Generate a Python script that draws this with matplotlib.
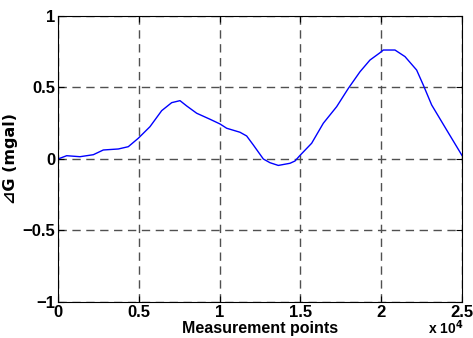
import numpy as np
import matplotlib.pyplot as plt
from matplotlib.ticker import FuncFormatter

pts_x = [0, 538, 1361, 2186, 2804, 3733, 4350, 4970, 5693, 6417, 7036, 7550,
         7963, 8582, 9406, 10025, 10438, 11262, 11675, 12088, 12707, 13119,
         13634, 14356, 14666, 14975, 15697, 16419, 17246, 17968, 18688,
         19307, 19926, 20132, 20854, 21473, 22194, 22607, 23123, 24051, 25000]
pts_g = [0.0, 0.023, 0.016, 0.03, 0.063, 0.07, 0.086, 0.145, 0.226, 0.338,
         0.394, 0.408, 0.371, 0.32, 0.278, 0.245, 0.215, 0.187, 0.161, 0.098,
         0.0, -0.026, -0.045, -0.03, -0.014, 0.025, 0.11, 0.25, 0.366, 0.494,
         0.61, 0.692, 0.743, 0.762, 0.762, 0.716, 0.622, 0.517, 0.378, 0.203,
         0.025]
xticks = [0, 5000, 10000, 15000, 20000, 25000]
yticks = [-1, -0.5, 0, 0.5, 1]

plt.rcParams['font.family'] = ['Liberation Sans', 'DejaVu Sans']
plt.rcParams['font.weight'] = 'bold'

fig = plt.figure(figsize=(4.73, 3.38), dpi=100)
ax = fig.add_axes([0.1226, 0.1065, 0.8541, 0.8462])

ax.plot(pts_x, pts_g, color='#0000ff', lw=1.0)

ax.set_xlim(0, 25000)
ax.set_ylim(-1, 1)
ax.set_xticks(xticks)
ax.set_yticks(yticks)
ax.xaxis.set_major_formatter(FuncFormatter(lambda v, p: '%g' % (v / 1e4)))
ax.yaxis.set_major_formatter(FuncFormatter(lambda v, p: ('%g' % v).replace('-', '\u2212')))
ax.tick_params(direction='in', length=4, width=0.8, labelsize=12, pad=2,
               top=True, right=True)
for lab in ax.get_xticklabels() + ax.get_yticklabels():
    lab.set_fontweight('bold')
ax.grid(True, color='#505050', ls=(0, (6, 4)), lw=1.0)
for s in ax.spines.values():
    s.set_linewidth(0.8)

ax.set_xlabel('Measurement points', fontsize=11.5, fontweight='bold', labelpad=1)
ax.set_ylabel('\u22bfG (mgal)', fontsize=11.5, fontweight='bold', labelpad=3,
              family=['DejaVu Sans'])
fig.text(0.905, 0.004, 'x 10$^{\\mathbf{4}}$', fontsize=10, fontweight='bold',
         va='bottom', ha='left')

fig.savefig('out.png', dpi=100)
